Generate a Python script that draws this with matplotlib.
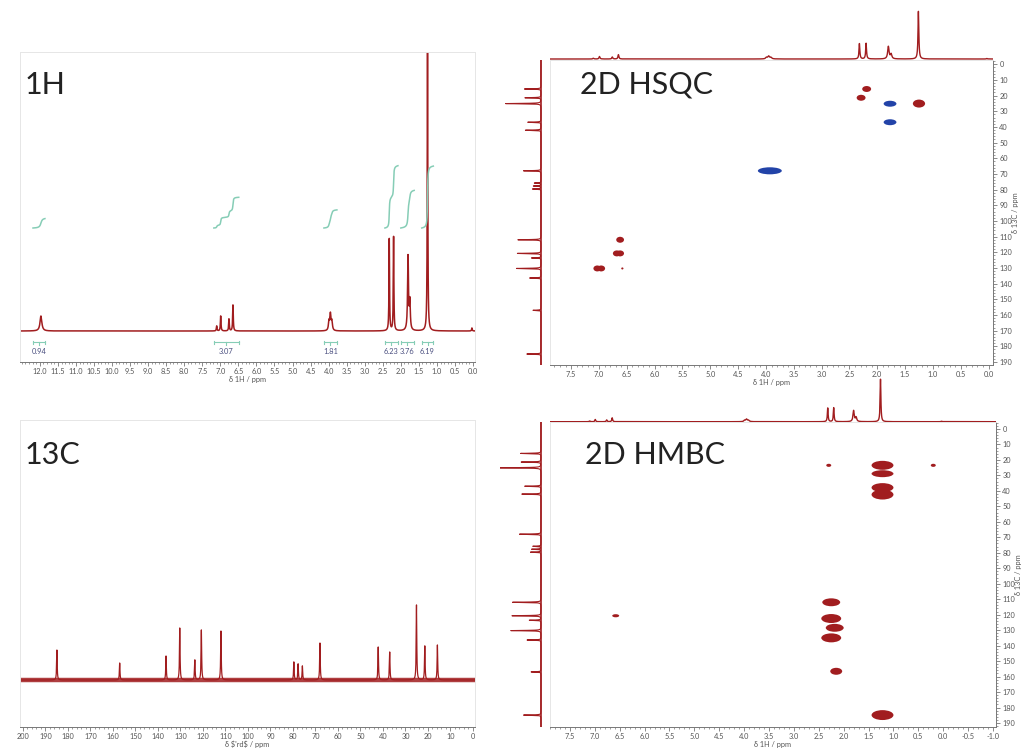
import numpy as np
import matplotlib.pyplot as plt
from matplotlib.patches import Ellipse
from matplotlib.ticker import MultipleLocator, FixedLocator, FormatStrFormatter

plt.rcParams['font.family'] = ['Lato', 'DejaVu Sans']
plt.rcParams['axes.unicode_minus'] = False

W, H = 1021, 749
RED = '#a11d1f'
BLUE = '#2243a8'
TEAL = '#86cdb6'
GREY = '#777777'

# 1H spectrum (ppm, height, fwhm)
H_PPM = [11.97, 7.10, 6.99, 6.76, 6.65, 3.99, 3.95, 3.91, 2.32, 2.20, 1.80, 1.75, 1.26, 0.03]
H_HEIGHT = [15, 5, 15, 12, 26, 9, 16, 9, 92, 94, 74, 28, 285, 3]
H_FWHM = [0.06, 0.02, 0.02, 0.02, 0.02, 0.035, 0.035, 0.035, 0.018, 0.018, 0.03, 0.03, 0.018, 0.02]

INT_LABELS = ['0.94', '3.07', '1.81', '6.23', '3.76', '6.19']
INT_VALUES = [0.94, 3.07, 1.81, 6.23, 3.76, 6.19]
INT_START = [12.19, 7.18, 4.13, 2.44, 2.00, 1.42]
INT_END = [11.86, 6.49, 3.77, 2.08, 1.63, 1.10]

# 13C spectrum
C_PPM = [184.9, 157.0, 136.4, 130.3, 123.6, 120.7, 112.0, 79.6, 77.7, 75.8, 68.0, 42.1, 37.0, 25.1, 21.4, 15.8]
C_HEIGHT = [30, 17, 24, 52, 20, 50, 49, 18, 16, 14, 37, 33, 28, 75, 34, 35]

# HSQC cross peaks (1H ppm, 13C ppm, phase, width ppm, height ppm)
HSQC_H = [3.93, 1.77, 1.77, 2.29, 2.19, 1.25, 7.03, 6.96, 6.68, 6.62, 6.62, 6.58]
HSQC_C = [68.0, 25.2, 37.0, 21.4, 15.8, 25.1, 130.3, 130.3, 120.7, 120.7, 112.0, 130.3]
HSQC_PHASE = [-1, -1, -1, 1, 1, 1, 1, 1, 1, 1, 1, 1]
HSQC_DH = [0.43, 0.23, 0.23, 0.16, 0.16, 0.22, 0.14, 0.14, 0.14, 0.14, 0.14, 0.04]
HSQC_DC = [4.5, 3.8, 3.8, 3.8, 3.8, 5.1, 3.8, 3.8, 3.8, 3.8, 3.8, 1.3]

# HMBC cross peaks
HMBC_H = [2.30, 0.20, 1.22, 1.22, 1.22, 1.22, 1.22, 2.25, 2.25, 2.18, 2.25, 2.15, 6.58]
HMBC_C = [23.5, 23.5, 23.5, 28.9, 37.9, 42.4, 184.9, 112.0, 122.5, 128.5, 135.0, 156.6, 120.7]
HMBC_DH = [0.10, 0.10, 0.44, 0.44, 0.44, 0.44, 0.44, 0.36, 0.40, 0.36, 0.40, 0.24, 0.14]
HMBC_DC = [2.0, 2.0, 5.8, 4.5, 5.8, 6.4, 6.4, 5.1, 5.8, 5.1, 5.8, 4.5, 2.0]


def box(l, t, r, b):
    return [l / W, 1 - b / H, (r - l) / W, (b - t) / H]


def lorentz(x, pos, hgt, fwhm):
    y = np.zeros_like(x)
    for p, h, w in zip(pos, hgt, fwhm):
        g = (w / 2) ** 2
        y += h * g / ((x - p) ** 2 + g)
    return y


def style_axis(ax, major, minor, fmt):
    ax.xaxis.set_major_locator(major)
    ax.xaxis.set_minor_locator(MultipleLocator(minor))
    ax.xaxis.set_major_formatter(FormatStrFormatter(fmt))
    ax.tick_params(axis='x', which='major', direction='out', length=3, width=0.6,
                   color=GREY, labelsize=5.3, labelcolor='#555555', pad=1.5)
    ax.tick_params(axis='x', which='minor', direction='out', length=1.5, width=0.5, color=GREY)
    ax.set_yticks([])
    for s in ('left', 'top', 'right'):
        ax.spines[s].set_color('#e6e6e6')
        ax.spines[s].set_linewidth(0.7)
    ax.spines['bottom'].set_color(GREY)
    ax.spines['bottom'].set_linewidth(0.7)


fig = plt.figure(figsize=(W / 100, H / 100), dpi=100)

hx = np.linspace(-1.2, 12.7, 28000)
hy = lorentz(hx, H_PPM, H_HEIGHT, H_FWHM)
cx = np.linspace(-6, 203, 42000)
cy = lorentz(cx, C_PPM, C_HEIGHT, [0.3] * len(C_PPM))

# 1H
ax = fig.add_axes(box(20, 52, 475, 362))
ax.plot(hx, hy, color=RED, lw=1.1)
for lab, val, a, b in zip(INT_LABELS, INT_VALUES, INT_START, INT_END):
    m = np.where((hx <= a) & (hx >= b))[0][::-1]
    cum = np.cumsum(hy[m])
    ax.plot(hx[m], 103 + cum / cum[-1] * 10 * val, color=TEAL, lw=1.1)
    ax.plot([a, b], [-11, -11], color=TEAL, lw=0.8)
    ax.plot([a, a], [-12.5, -9.5], color=TEAL, lw=0.8)
    ax.plot([b, b], [-12.5, -9.5], color=TEAL, lw=0.8)
    ax.plot([(a + b) / 2] * 2, [-11, -14], color=TEAL, lw=0.8)
    ax.text((a + b) / 2, -21, lab, ha='center', va='center', fontsize=5.4, color='#4b5080')
ax.set_xlim(12.55, -0.055)
ax.set_ylim(-31, 279)
style_axis(ax, FixedLocator(np.arange(0, 12.01, 0.5)), 0.1, '%.1f')
ax.set_xlabel('δ 1H / ppm', fontsize=5.3, color='#555555', labelpad=0.5)

# 13C
ax = fig.add_axes(box(20, 420, 475, 727))
ax.axhline(0, color=RED, lw=3.2, alpha=0.85)
ax.plot(cx, cy, color=RED, lw=0.9)
ax.set_xlim(201.3, -0.9)
ax.set_ylim(-47, 260)
style_axis(ax, MultipleLocator(10), 2, '%d')
ax.set_xlabel("δ \\$'rd\\$ / ppm", fontsize=5.3, color='#555555', labelpad=0.5)


def panel_2d(pos, top, left, xlim, ylim, top_ylim, left_xlim):
    a2 = fig.add_axes(box(*pos))
    a2.set_xlim(*xlim)
    a2.set_ylim(*ylim)
    style_axis(a2, MultipleLocator(0.5), 0.1, '%.1f')
    a2.yaxis.set_label_position('right')
    a2.yaxis.tick_right()
    a2.yaxis.set_major_locator(MultipleLocator(10))
    a2.yaxis.set_minor_locator(MultipleLocator(2))
    a2.tick_params(axis='y', which='major', direction='out', length=3, width=0.6,
                   color=GREY, labelsize=5.3, labelcolor='#555555', pad=1.5)
    a2.tick_params(axis='y', which='minor', direction='out', length=1.5, width=0.5, color=GREY)
    a2.spines['right'].set_color(GREY)
    a2.set_xlabel('δ 1H / ppm', fontsize=5.3, color='#555555', labelpad=0.5)
    a2.set_ylabel('δ 13C / ppm', fontsize=5.3, color='#555555', labelpad=0)

    at = fig.add_axes(box(*top))
    at.plot(hx, hy, color=RED, lw=1.0)
    at.set_xlim(*xlim)
    at.set_ylim(*top_ylim)
    at.axis('off')

    al = fig.add_axes(box(*left))
    al.axvline(0, color=RED, lw=1.4, alpha=0.85)
    al.plot(cy, cx, color=RED, lw=0.8)
    al.set_xlim(*left_xlim)
    al.set_ylim(*ylim)
    al.axis('off')
    return a2


hsqc = panel_2d((550, 60, 993, 365), (550, 0, 993, 60), (500, 60, 545, 365),
                (7.88, -0.08), (191.9, -2.7), (-6, 353), (87, -8.5))
for h, c, ph, dh, dc in zip(HSQC_H, HSQC_C, HSQC_PHASE, HSQC_DH, HSQC_DC):
    hsqc.add_patch(Ellipse((h, c), dh, dc, color=RED if ph > 0 else BLUE, lw=0))

hmbc = panel_2d((550, 422, 996, 727), (550, 378, 996, 422), (500, 422, 545, 727),
                (7.9, -1.06), (192.6, -4.5), (-2, 293), (70.7, -6.9))
for h, c, dh, dc in zip(HMBC_H, HMBC_C, HMBC_DH, HMBC_DC):
    hmbc.add_patch(Ellipse((h, c), dh, dc, color=RED, lw=0))

for txt, x, y in [('1H', 25, 85), ('13C', 25, 455), ('2D HSQC', 580, 85), ('2D HMBC', 585, 455)]:
    fig.text(x / W, 1 - y / H, txt, fontsize=22, color='#222222', va='center', ha='left')

fig.savefig('out.png', dpi=100)
